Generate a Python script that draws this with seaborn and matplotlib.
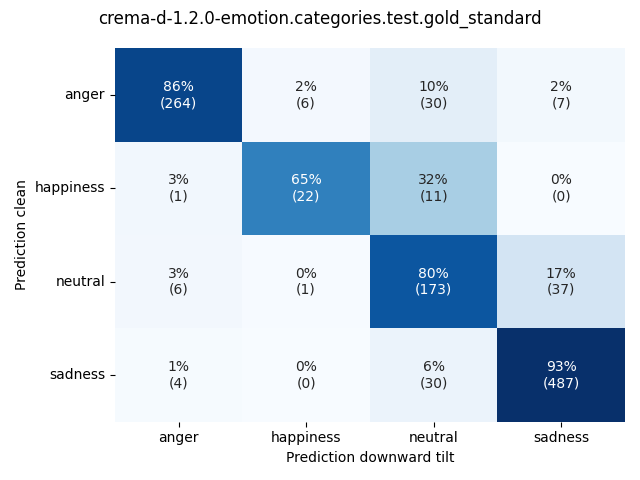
import numpy as np
import pandas as pd
import matplotlib
matplotlib.use("Agg")
import matplotlib.pyplot as plt
import seaborn as sns

# 类别
labels = ["anger", "happiness", "neutral", "sadness"]
# 计数 (行: clean, 列: downward tilt)
counts_anger = [264, 6, 30, 7]
counts_happiness = [1, 22, 11, 0]
counts_neutral = [6, 1, 173, 37]
counts_sadness = [4, 0, 30, 487]

counts = np.array([counts_anger, counts_happiness, counts_neutral, counts_sadness])
# 按行归一化
perc = counts / counts.sum(axis=1, keepdims=True)

df = pd.DataFrame(perc, index=labels, columns=labels)
annot = np.array([[f"{round(100 * p):.0f}%\n({c})" for p, c in zip(prow, crow)]
                  for prow, crow in zip(perc, counts)])

plt.figure(figsize=(6.4, 4.8), dpi=100)
ax = sns.heatmap(df, annot=annot, fmt="", cmap="Blues", cbar=False)
ax.set_xlabel("Prediction downward tilt")
ax.set_ylabel("Prediction clean")
plt.yticks(rotation=0)
plt.suptitle("crema-d-1.2.0-emotion.categories.test.gold_standard")
plt.tight_layout()
plt.savefig("out.png")
